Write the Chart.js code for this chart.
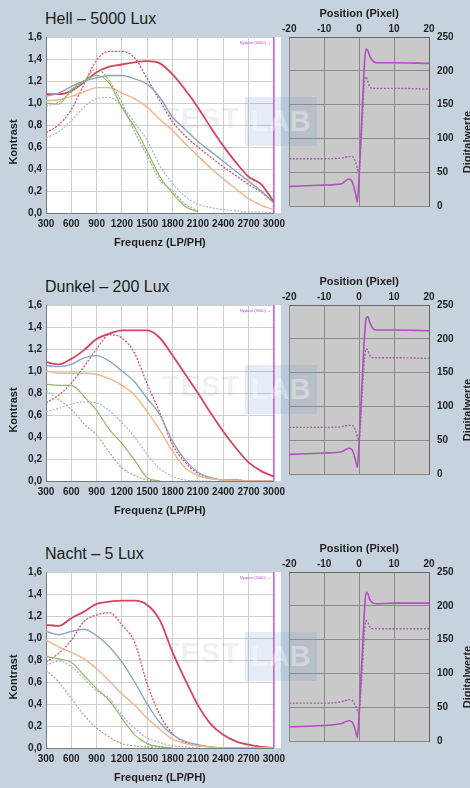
<!DOCTYPE html>
<html>
<head>
<meta charset="utf-8">
<script src="https://cdn.jsdelivr.net/npm/chart.js@4"></script>
<style>
  html, body { margin: 0; padding: 0; }
  body { width: 470px; height: 788px; overflow: hidden; background: #c6d3de; position: relative;
         font-family: 'Liberation Sans', Arial, sans-serif; }
  .panel { position: absolute; left: 0; width: 470px; height: 268px; }
  .panel canvas { position: absolute; top: 0; }
  .mtf { left: 0; }
  .edge { left: 280px; }
  .title { position: absolute; left: 45px; top: 10px; font-size: 16px; line-height: 18px; color: #1c1c1c; }
  .wm-test { position: absolute; left: 162px; top: 102px; font: bold 29px 'Liberation Sans', Arial, sans-serif;
             color: rgba(150, 155, 165, 0.14); letter-spacing: 1px; pointer-events: none; }
  .wm-box { position: absolute; left: 245px; top: 97px; width: 72px; height: 49px; background: rgba(110, 150, 205, 0.18);
            font: bold 29px 'Liberation Sans', Arial, sans-serif; color: rgba(255, 255, 255, 0.35);
            line-height: 49px; padding-left: 6px; box-sizing: border-box; pointer-events: none; overflow: hidden; }
</style>
</head>
<body>

<div class="panel" style="top:0">
  <div class="title">Hell – 5000 Lux</div>
  <canvas class="mtf" id="mtf1" width="290" height="260"></canvas>
  <canvas class="edge" id="edge1" width="200" height="220"></canvas>
  <div class="wm-test">TEST</div>
  <div class="wm-box">LAB</div>
</div>

<div class="panel" style="top:268px">
  <div class="title">Dunkel – 200 Lux</div>
  <canvas class="mtf" id="mtf2" width="290" height="260"></canvas>
  <canvas class="edge" id="edge2" width="200" height="220"></canvas>
  <div class="wm-test">TEST</div>
  <div class="wm-box">LAB</div>
</div>

<div class="panel" style="top:535px">
  <div class="title">Nacht – 5 Lux</div>
  <canvas class="mtf" id="mtf3" width="290" height="260"></canvas>
  <canvas class="edge" id="edge3" width="200" height="220"></canvas>
  <div class="wm-test">TEST</div>
  <div class="wm-box">LAB</div>
</div>

<script>
// frequencies (LP/PH) for the MTF curves
const freq = [300, 450, 600, 750, 900, 1050, 1200, 1350, 1500, 1650, 1800, 1950, 2100, 2250, 2400, 2550, 2700, 2850, 3000];
const nyquist = 3000;

// Hell - 5000 Lux
const hellRed      = [1.08, 1.08, 1.11, 1.19, 1.28, 1.33, 1.35, 1.37, 1.38, 1.36, 1.26, 1.12, 0.96, 0.78, 0.61, 0.46, 0.33, 0.26, 0.10];
const hellRedDot   = [0.73, 0.80, 0.94, 1.17, 1.39, 1.47, 1.47, 1.41, 1.22, 1.02, 0.83, 0.70, 0.60, 0.51, 0.42, 0.34, 0.26, 0.19, 0.09];
const hellBlue     = [1.06, 1.09, 1.15, 1.20, 1.23, 1.25, 1.25, 1.22, 1.17, 1.05, 0.87, 0.76, 0.65, 0.56, 0.47, 0.38, 0.29, 0.20, 0.09];
const hellBlueDot  = [0.68, 0.74, 0.84, 0.96, 1.04, 1.05, 0.97, 0.82, 0.66, 0.43, 0.27, 0.15, 0.08, 0.05, 0.03, 0.02, 0.01, 0.01, 0.00];
const hellOrange   = [1.02, 1.03, 1.06, 1.10, 1.14, 1.14, 1.09, 1.04, 0.96, 0.85, 0.75, 0.63, 0.52, 0.41, 0.31, 0.22, 0.13, 0.07, 0.03];
const hellGreen    = [1.00, 0.99, 1.12, 1.20, 1.25, 1.18, 0.96, 0.78, 0.56, 0.33, 0.18, 0.06, 0.01, null, null, null, null, null, null];
const hellGreenDot = [0.97, 1.01, 1.10, 1.20, 1.31, 1.20, 1.00, 0.74, 0.52, 0.30, 0.20, 0.08, 0.02, null, null, null, null, null, null];

// Dunkel - 200 Lux
const dunkelRed      = [1.08, 1.06, 1.11, 1.19, 1.29, 1.34, 1.37, 1.37, 1.37, 1.30, 1.14, 0.97, 0.80, 0.62, 0.45, 0.30, 0.17, 0.09, 0.04];
const dunkelRedDot   = [0.71, 0.78, 0.89, 1.04, 1.20, 1.33, 1.30, 1.16, 0.88, 0.62, 0.33, 0.17, 0.07, 0.03, 0.01, 0.01, 0.00, 0.00, 0.00];
const dunkelBlue     = [1.05, 1.04, 1.06, 1.12, 1.14, 1.09, 1.00, 0.90, 0.75, 0.60, 0.36, 0.19, 0.08, 0.03, 0.01, 0.01, 0.00, 0.00, 0.00];
const dunkelBlueDot  = [0.63, 0.66, 0.70, 0.72, 0.71, 0.64, 0.53, 0.40, 0.24, 0.11, 0.04, 0.01, 0.00, 0.00, null, null, null, null, null];
const dunkelOrange   = [1.00, 0.98, 0.98, 0.98, 0.97, 0.93, 0.87, 0.78, 0.63, 0.46, 0.27, 0.12, 0.05, 0.02, 0.01, 0.00, 0.00, 0.00, 0.00];
const dunkelGreen    = [0.88, 0.87, 0.87, 0.77, 0.64, 0.47, 0.34, 0.19, 0.03, 0.00, null, null, null, null, null, null, null, null, null];
const dunkelGreenDot = [0.82, 0.74, 0.65, 0.52, 0.42, 0.26, 0.12, 0.05, 0.01, 0.00, null, null, null, null, null, null, null, null, null];

// Nacht - 5 Lux
const nachtRed      = [1.12, 1.11, 1.18, 1.24, 1.31, 1.33, 1.34, 1.34, 1.30, 1.16, 0.87, 0.62, 0.39, 0.22, 0.12, 0.06, 0.03, 0.01, 0.00];
const nachtRedDot   = [0.78, 0.86, 0.98, 1.15, 1.21, 1.23, 1.12, 0.96, 0.58, 0.30, 0.13, 0.05, 0.02, 0.01, 0.00, 0.00, 0.00, 0.00, 0.00];
const nachtBlue     = [1.06, 1.03, 1.06, 1.08, 1.02, 0.92, 0.78, 0.60, 0.40, 0.23, 0.12, 0.06, 0.03, 0.01, 0.00, 0.00, 0.00, 0.00, 0.00];
const nachtBlueDot  = [0.75, 0.79, 0.74, 0.63, 0.52, 0.45, 0.30, 0.18, 0.09, 0.05, 0.02, 0.01, 0.00, null, null, null, null, null, null];
const nachtOrange   = [0.98, 0.92, 0.87, 0.81, 0.72, 0.61, 0.49, 0.39, 0.27, 0.17, 0.08, 0.04, 0.02, 0.01, 0.00, 0.00, 0.00, 0.00, 0.00];
const nachtGreen    = [0.83, 0.81, 0.78, 0.66, 0.54, 0.43, 0.27, 0.12, 0.04, 0.01, 0.00, null, null, null, null, null, null, null, null];
const nachtGreenDot = [0.71, 0.60, 0.45, 0.30, 0.18, 0.10, 0.04, 0.02, 0.01, 0.01, 0.00, null, null, null, null, null, null, null, null];

// edge profiles: position (pixel) and digital values
const edgePos = [-20, -10, -5, -3, -2, -1, -0.5, 0, 0.5, 1, 1.5, 2, 2.5, 3, 4, 5, 10, 20];
const hellEdge      = [29, 31, 33, 40, 36, 18, 6, 45, 100, 155, 208, 232, 230, 222, 214, 212, 212, 211];
const hellEdgeDot   = [70, 70, 71, 73, 73, 65, 55, 49, 90, 135, 185, 191, 184, 177, 174, 174, 174, 173];
const dunkelEdge    = [29, 31, 33, 38, 36, 20, 10, 48, 100, 150, 200, 230, 233, 225, 215, 213, 213, 212];
const dunkelEdgeDot = [69, 69, 70, 72, 72, 64, 55, 50, 85, 130, 170, 185, 183, 176, 172, 172, 172, 171];
const nachtEdge     = [21, 23, 26, 30, 28, 15, 5, 40, 90, 140, 190, 220, 218, 210, 204, 203, 204, 204];
const nachtEdgeDot  = [56, 56, 58, 61, 60, 52, 45, 40, 75, 115, 160, 178, 175, 169, 166, 166, 166, 166];

const freqTicks = [300, 3000, 300];     // min, max, step
const kontrastTicks = [0, 1.6, 0.2];
const posTicks = [-20, 20, 10];
const digTicks = [0, 250, 50];

Chart.defaults.font.family = "'Liberation Sans', Arial, sans-serif";
Chart.defaults.color = '#1e1e1e';

const tickFont = { size: 10, weight: 'bold' };
const titleFont = { size: 11, weight: 'bold' };

const extras = {
    id: 'extras',
    beforeDraw(chart, args, opts) {
        const { ctx, chartArea: a } = chart;
        ctx.save();
        ctx.fillStyle = opts.bg;
        ctx.fillRect(a.left, a.top, a.right - a.left + (opts.extra || 0), a.bottom - a.top);
        ctx.restore();
    },
    afterDraw(chart, args, opts) {
        const { ctx, chartArea: a } = chart;
        ctx.save();
        if (opts.note) {
            ctx.font = '4px Arial';
            ctx.fillStyle = '#c23ee0';
            ctx.textAlign = 'right';
            ctx.fillText(opts.note, a.right - 3, a.top + 7);
        }
        // vertical axis label, reading bottom to top
        ctx.font = "bold 11px 'Liberation Sans', Arial, sans-serif";
        ctx.fillStyle = '#1e1e1e';
        ctx.textAlign = 'center';
        ctx.textBaseline = 'middle';
        ctx.translate(opts.labelX, opts.labelY);
        ctx.rotate(-Math.PI / 2);
        ctx.fillText(opts.label, 0, 0);
        ctx.restore();
    }
};

const toPoints = (xs, ys) => xs.map((x, i) => ({ x: x, y: ys[i] }));

function line(xs, ys, color, width, dotted) {
    return {
        data: toPoints(xs, ys),
        borderColor: color,
        borderWidth: width,
        borderDash: dotted ? [2, 1.5] : [],
        pointRadius: 0,
        tension: 0.4,
        cubicInterpolationMode: 'monotone',
        spanGaps: false
    };
}

function makeMtf(id, s) {
    const datasets = [
        line(freq, s.greenDot, '#9aab8c', 1.2, true),
        line(freq, s.green, '#92b864', 1.2, false),
        line(freq, s.blueDot, '#a3b4d4', 1.2, true),
        line(freq, s.orange, '#f2b489', 1.4, false),
        line(freq, s.blue, '#8aa4c9', 1.4, false),
        line(freq, s.redDot, '#d64d6c', 1.3, true),
        line(freq, s.red, '#d8435c', 1.8, false),
        {
            data: [{ x: nyquist, y: kontrastTicks[0] }, { x: nyquist, y: kontrastTicks[1] }],
            borderColor: '#c35bd6', borderWidth: 1.5, pointRadius: 0, clip: false
        }
    ];
    new Chart(document.getElementById(id), {
        type: 'line',
        data: { datasets: datasets },
        plugins: [extras],
        options: {
            responsive: false,
            animation: false,
            layout: { padding: { top: 37, right: 10, left: 0, bottom: 0 } },
            plugins: {
                legend: { display: false },
                tooltip: { enabled: false },
                extras: { bg: '#ffffff', extra: 7, note: 'Nyquist (3000) →', label: 'Kontrast', labelX: 14, labelY: 142 }
            },
            scales: {
                x: {
                    type: 'linear',
                    min: freqTicks[0], max: freqTicks[1],
                    ticks: {
                        stepSize: freqTicks[2], font: tickFont, padding: 5, maxRotation: 0, autoSkip: false,
                        callback: v => String(v)
                    },
                    grid: { color: '#cfcfcf', drawTicks: false },
                    border: { color: '#7a7a7a' },
                    title: { display: true, text: 'Frequenz (LP/PH)', font: titleFont, padding: { top: 0, bottom: 10 } },
                    afterFit: sc => { sc.height = 47; }
                },
                y: {
                    min: kontrastTicks[0], max: kontrastTicks[1],
                    ticks: {
                        stepSize: kontrastTicks[2], font: tickFont, padding: 4,
                        callback: v => v.toFixed(1).replace('.', ',')
                    },
                    grid: { color: '#cfcfcf', drawTicks: false },
                    border: { color: '#7a7a7a' },
                    afterFit: sc => { sc.width = 46; }
                }
            }
        }
    });
}

function makeEdge(id, solid, dotted) {
    new Chart(document.getElementById(id), {
        type: 'line',
        data: {
            datasets: [
                line(edgePos, dotted, '#a362a8', 1.4, true),
                line(edgePos, solid, '#b24fc2', 1.6, false)
            ]
        },
        plugins: [extras],
        options: {
            responsive: false,
            animation: false,
            layout: { padding: { top: 0, right: 0, left: 7, bottom: 7 } },
            plugins: {
                legend: { display: false },
                tooltip: { enabled: false },
                extras: { bg: '#c9c9c9', extra: 0, label: 'Digitalwerte', labelX: 188, labelY: 142 }
            },
            scales: {
                x: {
                    type: 'linear',
                    position: 'top',
                    min: posTicks[0], max: posTicks[1],
                    ticks: { stepSize: posTicks[2], font: tickFont, padding: 2, maxRotation: 0, autoSkip: false },
                    grid: { color: '#8a8a8a', drawTicks: false },
                    border: { color: '#666666' },
                    title: { display: true, text: 'Position (Pixel)', font: titleFont, padding: { top: 7, bottom: 0 } },
                    afterFit: sc => { sc.height = 37; }
                },
                y: {
                    position: 'right',
                    min: digTicks[0], max: digTicks[1],
                    ticks: { stepSize: digTicks[2], font: tickFont, padding: 8 },
                    grid: { color: '#8a8a8a', drawTicks: false },
                    border: { color: '#666666' },
                    afterFit: sc => { sc.width = 51; }
                }
            }
        }
    });
}

makeMtf('mtf1', { red: hellRed, redDot: hellRedDot, blue: hellBlue, blueDot: hellBlueDot, orange: hellOrange, green: hellGreen, greenDot: hellGreenDot });
makeMtf('mtf2', { red: dunkelRed, redDot: dunkelRedDot, blue: dunkelBlue, blueDot: dunkelBlueDot, orange: dunkelOrange, green: dunkelGreen, greenDot: dunkelGreenDot });
makeMtf('mtf3', { red: nachtRed, redDot: nachtRedDot, blue: nachtBlue, blueDot: nachtBlueDot, orange: nachtOrange, green: nachtGreen, greenDot: nachtGreenDot });

makeEdge('edge1', hellEdge, hellEdgeDot);
makeEdge('edge2', dunkelEdge, dunkelEdgeDot);
makeEdge('edge3', nachtEdge, nachtEdgeDot);
</script>
</body>
</html>
